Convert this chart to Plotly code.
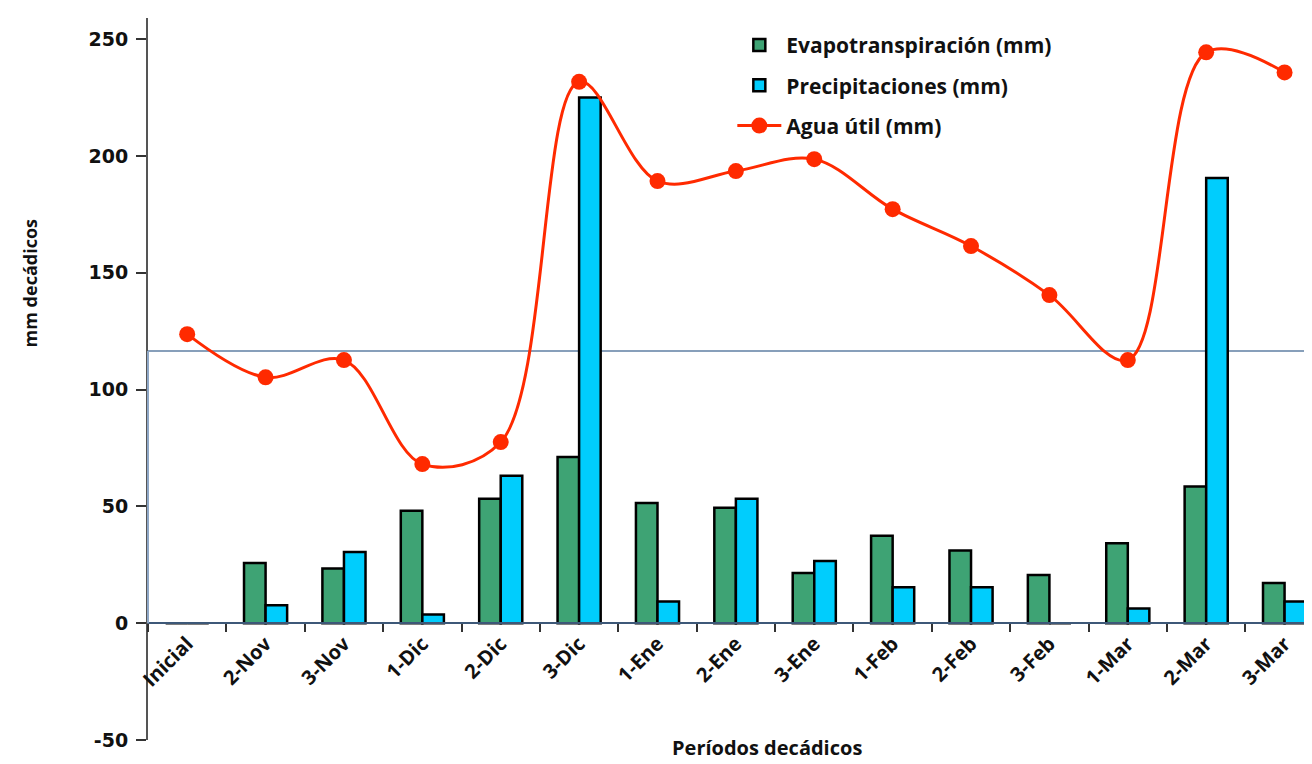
import plotly.graph_objects as go

categorias = ['Inicial', '2-Nov', '3-Nov', '1-Dic', '2-Dic', '3-Dic', '1-Ene', '2-Ene',
              '3-Ene', '1-Feb', '2-Feb', '3-Feb', '1-Mar', '2-Mar', '3-Mar']
evapotranspiracion = [0, 25.8, 23.4, 48.1, 53.2, 71.1, 51.4, 49.4, 21.5, 37.4, 31.1, 20.6, 34.2, 58.5, 17.2]
precipitaciones = [0, 7.7, 30.5, 3.7, 63.1, 225, 9.3, 53.2, 26.6, 15.4, 15.4, 0, 6.3, 190.5, 9.3]
agua_util = [123.7, 105.2, 112.6, 68.1, 77.5, 231.7, 189.2, 193.5, 198.6, 177.2, 161.4, 140.4, 112.6, 244.3, 235.7]
umbral = 116.5
y_ticks = [-50, 0, 50, 100, 150, 200, 250]
y_tick_labels = ['-50', '0', '50', '100', '150', '200', '250']

Y_MIN, Y_MAX = -50, 259
X_RANGE = [-0.5, 14.35]

LBL = "Open Sans"
NUM = "DejaVu Sans"

fig = go.Figure()
fig.add_trace(go.Bar(
    x=categorias, y=evapotranspiracion, name="Evapotranspiración (mm)",
    marker=dict(color="#3ea374", line=dict(color="black", width=2.5)),
    legendgroup="a",
))
fig.add_trace(go.Bar(
    x=categorias, y=precipitaciones, name="Precipitaciones (mm)",
    marker=dict(color="#00cdfd", line=dict(color="black", width=2.5)),
    legendgroup="b",
))
fig.add_trace(go.Scatter(
    x=categorias, y=agua_util, name="Agua útil (mm)", mode="lines+markers",
    line=dict(color="#ff2a00", width=3, shape="spline", smoothing=1),
    marker=dict(color="#ff2a00", size=16),
    legendgroup="c",
))

zero_pos = (0 - Y_MIN) / (Y_MAX - Y_MIN)

fig.update_layout(
    width=1304, height=756,
    margin=dict(l=140, r=0, t=10, b=24, autoexpand=False),
    paper_bgcolor="white", plot_bgcolor="white",
    barmode="group", bargap=0.45, bargroupgap=0,
    showlegend=True,
    legend=dict(x=0.502, y=0.9905, xanchor="left", yanchor="top",
                font=dict(family=LBL, size=21, color="#111", weight="bold"),
                bgcolor="rgba(0,0,0,0)", traceorder="grouped", tracegroupgap=10,
                itemwidth=44),
    xaxis=dict(
        type="category", categoryorder="array", categoryarray=categorias,
        range=X_RANGE, anchor="free", position=zero_pos, automargin=False,
        showline=True, linecolor="#3d5878", linewidth=2,
        ticks="outside", tickson="boundaries", ticklen=8, tickcolor="#333", tickwidth=1.5,
        tickangle=-45, tickfont=dict(family=LBL, size=20, color="#111", weight="bold"),
        showgrid=False, zeroline=False,
    ),
    xaxis2=dict(
        overlaying="x", range=X_RANGE, anchor="free", position=zero_pos, automargin=False,
        tickmode="linear", tick0=0.5, dtick=1, ticks="inside", ticklen=8,
        tickcolor="#333", tickwidth=1.5, showticklabels=False,
        showline=False, showgrid=False, zeroline=False,
    ),
    yaxis=dict(
        range=[Y_MIN, Y_MAX], tickvals=y_ticks, ticktext=y_tick_labels, automargin=False,
        showline=True, linecolor="#555", linewidth=2,
        ticks="outside", ticklen=10, tickcolor="#333", tickwidth=1.5,
        ticklabelstandoff=4,
        tickfont=dict(family=NUM, size=19, color="#111", weight="bold"),
        showgrid=False, zeroline=False,
    ),
)

fig.add_hline(y=umbral, line=dict(color="#5f7fa3", width=1.5), layer="below")
fig.add_shape(type="line", xref="paper", yref="y", x0=0, x1=0, y0=0, y1=umbral,
              line=dict(color="#8ea7c6", width=2), layer="above")

fig.add_annotation(text="<b>mm decádicos</b>", xref="paper", yref="paper",
                   x=-0.101, y=0.633, xanchor="center", yanchor="middle",
                   textangle=-90, showarrow=False,
                   font=dict(family=LBL, size=18, color="#111"))
fig.add_annotation(text="<b>Períodos decádicos</b>", xref="paper", yref="paper",
                   x=0.532, y=-0.011, xanchor="center", yanchor="middle", showarrow=False,
                   font=dict(family=LBL, size=20, color="#111"))

fig.write_html("out.html")
